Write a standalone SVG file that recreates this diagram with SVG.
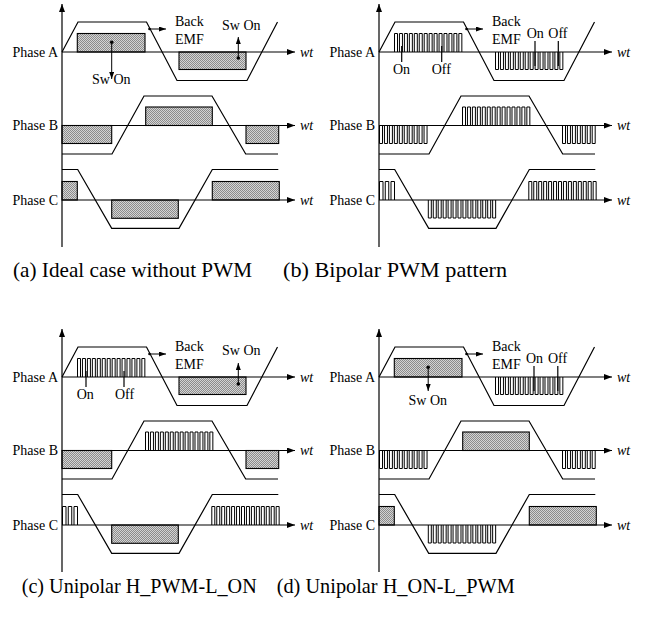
<svg xmlns="http://www.w3.org/2000/svg" xmlns:xlink="http://www.w3.org/1999/xlink" width="658" height="625" viewBox="0 0 658 625" font-family="'Liberation Serif', 'Times New Roman', serif">
<style>
.ln{stroke:#000;stroke-width:1.2;fill:none}
.ax{stroke:#000;stroke-width:1.2;fill:none;marker-end:url(#ah)}
.an{stroke:#000;stroke-width:1;fill:none;marker-end:url(#as)}
.box{fill:url(#hatch);stroke:#000;stroke-width:1.1}
.pw{fill:none;stroke:#000;stroke-width:1}
text{font-family:'Liberation Serif','Times New Roman',serif;fill:#000}
.t{font-size:14px}
.wt{font-style:italic}
.cap{font-size:21px}
</style>
<defs>
<marker id="ah" viewBox="0 0 8 6" refX="8" refY="3" markerWidth="8" markerHeight="6" markerUnits="userSpaceOnUse" orient="auto"><path d="M0,0L8,3L0,6z" fill="#000"/></marker>
<marker id="as" viewBox="0 0 7 5" refX="7" refY="2.5" markerWidth="7" markerHeight="5" markerUnits="userSpaceOnUse" orient="auto"><path d="M0,0L7,2.5L0,5z" fill="#000"/></marker>
<pattern id="hatch" width="2" height="2" patternUnits="userSpaceOnUse"><rect width="2" height="2" fill="#d4d4d4"/><rect width="1" height="1" fill="#8c8c8c"/><rect x="1" y="1" width="1" height="1" fill="#8c8c8c"/></pattern>
<g id="skel">
<line class="ax" x1="62" y1="247" x2="62" y2="4"/>
<line class="ax" x1="62" y1="52" x2="295" y2="52"/>
<line class="ax" x1="62" y1="125.5" x2="295" y2="125.5"/>
<line class="ax" x1="62" y1="200" x2="295" y2="200"/>
<polyline class="ln" points="62,52 78,22 146.5,22 177,80.5 247,80.5 277.5,22"/>
<polyline class="ln" points="62,154 112,154 144,96 212,96 245.7,154 278,154"/>
<polyline class="ln" points="62,169.5 77.7,169.5 111.7,228.3 179,228.3 212.3,169.5 278.3,169.5"/>
<text class="t" x="58" y="56.5" text-anchor="end">Phase A</text>
<text class="t" x="58" y="130" text-anchor="end">Phase B</text>
<text class="t" x="58" y="204.5" text-anchor="end">Phase C</text>
<text class="t wt" x="300" y="56.5">wt</text>
<text class="t wt" x="300" y="130">wt</text>
<text class="t wt" x="300" y="204.5">wt</text>
<circle cx="149.5" cy="29" r="1.3"/>
<line class="an" x1="149.5" y1="29" x2="166" y2="29"/>
<text class="t" x="175" y="25.5">Back</text>
<text class="t" x="175" y="43.5">EMF</text>
</g>
<rect id="sAp" class="box" x="77.3" y="33.5" width="67.7" height="18.5"/>
<rect id="sAn" class="box" x="179" y="52" width="67" height="17.5"/>
<rect id="sBp" class="box" x="145.7" y="107" width="66.6" height="18.5"/>
<rect id="sBl" class="box" x="62" y="125.5" width="49.7" height="18"/>
<rect id="sBr" class="box" x="246" y="125.5" width="32.7" height="18"/>
<rect id="sCl" class="box" x="62" y="181.5" width="15.3" height="18.5"/>
<rect id="sCn" class="box" x="111.7" y="200" width="66.6" height="18.3"/>
<rect id="sCr" class="box" x="212.3" y="181.5" width="67" height="18.5"/>
<path id="pAp" class="pw" d="M77.5,52
v-18.5h3v18.5m1.95,0v-18.5h3v18.5m1.95,0v-18.5h3v18.5m1.95,0v-18.5h3v18.5m1.95,0v-18.5h3v18.5m1.95,0v-18.5h3v18.5m1.95,0v-18.5h3v18.5m1.95,0
v-18.5h3v18.5m1.95,0v-18.5h3v18.5m1.95,0v-18.5h3v18.5m1.95,0v-18.5h3v18.5m1.95,0v-18.5h3v18.5m1.95,0v-18.5h3v18.5m1.95,0v-18.5h3v18.5"/>
<path id="pAn" class="pw" d="M178.5,52
v17.5h3v-17.5m1.95,0v17.5h3v-17.5m1.95,0v17.5h3v-17.5m1.95,0v17.5h3v-17.5m1.95,0v17.5h3v-17.5m1.95,0v17.5h3v-17.5m1.95,0v17.5h3v-17.5m1.95,0
v17.5h3v-17.5m1.95,0v17.5h3v-17.5m1.95,0v17.5h3v-17.5m1.95,0v17.5h3v-17.5m1.95,0v17.5h3v-17.5m1.95,0v17.5h3v-17.5m1.95,0v17.5h3v-17.5"/>
<path id="pBp" class="pw" d="M145.5,125.5
v-18.5h3v18.5m1.95,0v-18.5h3v18.5m1.95,0v-18.5h3v18.5m1.95,0v-18.5h3v18.5m1.95,0v-18.5h3v18.5m1.95,0v-18.5h3v18.5m1.95,0v-18.5h3v18.5m1.95,0
v-18.5h3v18.5m1.95,0v-18.5h3v18.5m1.95,0v-18.5h3v18.5m1.95,0v-18.5h3v18.5m1.95,0v-18.5h3v18.5m1.95,0v-18.5h3v18.5m1.95,0v-18.5h3v18.5"/>
<path id="pBl" class="pw" d="M62.5,125.5
v18h3v-18m1.95,0v18h3v-18m1.95,0v18h3v-18m1.95,0v18h3v-18m1.95,0v18h3v-18m1.95,0
v18h3v-18m1.95,0v18h3v-18m1.95,0v18h3v-18m1.95,0v18h3v-18m1.95,0v18h3v-18"/>
<path id="pBr" class="pw" d="M245.5,125.5
v18h3v-18m1.95,0v18h3v-18m1.95,0v18h3v-18m1.95,0v18h3v-18m1.95,0v18h3v-18m1.95,0v18h3v-18m1.95,0v18h3v-18"/>
<path id="pCl" class="pw" d="M62.5,200v-18.5h3.5v18.5m2.25,0v-18.5h3.5v18.5m2.25,0v-18.5h3.5v18.5"/>
<path id="pCn" class="pw" d="M111.3,200
v18h3v-18m1.95,0v18h3v-18m1.95,0v18h3v-18m1.95,0v18h3v-18m1.95,0v18h3v-18m1.95,0v18h3v-18m1.95,0v18h3v-18m1.95,0
v18h3v-18m1.95,0v18h3v-18m1.95,0v18h3v-18m1.95,0v18h3v-18m1.95,0v18h3v-18m1.95,0v18h3v-18m1.95,0v18h3v-18"/>
<path id="pCr" class="pw" d="M211.8,200
v-18.5h3v18.5m1.95,0v-18.5h3v18.5m1.95,0v-18.5h3v18.5m1.95,0v-18.5h3v18.5m1.95,0v-18.5h3v18.5m1.95,0v-18.5h3v18.5m1.95,0v-18.5h3v18.5m1.95,0
v-18.5h3v18.5m1.95,0v-18.5h3v18.5m1.95,0v-18.5h3v18.5m1.95,0v-18.5h3v18.5m1.95,0v-18.5h3v18.5m1.95,0v-18.5h3v18.5m1.95,0v-18.5h3v18.5"/>
</defs>

<g id="panel-a">
<use href="#sAp"/><use href="#sAn"/><use href="#sBp"/><use href="#sBl"/><use href="#sBr"/><use href="#sCl"/><use href="#sCn"/><use href="#sCr"/>
<use href="#skel"/>
<circle cx="111.7" cy="42.3" r="1.8"/>
<line class="an" x1="111.7" y1="42.3" x2="111.7" y2="79"/>
<text class="t" x="92" y="83.5">Sw On</text>
<text class="t" x="222" y="29.5">Sw On</text>
<circle cx="238.3" cy="58" r="1.8"/>
<line class="an" x1="238.3" y1="58" x2="238.3" y2="37"/>
</g>

<g id="panel-b" transform="translate(317,0)">
<use href="#pAp"/><use href="#pAn"/><use href="#pBp"/><use href="#pBl"/><use href="#pBr"/><use href="#pCl"/><use href="#pCn"/><use href="#pCr"/>
<use href="#skel"/>
<line class="ln" x1="84.7" y1="46" x2="84.7" y2="62"/>
<line class="ln" x1="124.7" y1="46" x2="124.7" y2="62"/>
<text class="t" x="76" y="73.5">On</text>
<text class="t" x="114.7" y="73.5">Off</text>
<line class="ln" x1="218" y1="41" x2="218" y2="66"/>
<line class="ln" x1="241.3" y1="41" x2="241.3" y2="66"/>
<text class="t" x="209.7" y="37.7">On</text>
<text class="t" x="231.3" y="37.7">Off</text>
</g>

<g id="panel-c" transform="translate(0,325)">
<use href="#pAp"/><use href="#sAn"/><use href="#pBp"/><use href="#sBl"/><use href="#sBr"/><use href="#pCl"/><use href="#sCn"/><use href="#pCr"/>
<use href="#skel"/>
<line class="ln" x1="86" y1="46" x2="86" y2="62"/>
<line class="ln" x1="124" y1="46" x2="124" y2="62"/>
<text class="t" x="76.7" y="73.5">On</text>
<text class="t" x="115" y="73.5">Off</text>
<text class="t" x="222" y="29.5">Sw On</text>
<circle cx="238.3" cy="59" r="1.8"/>
<line class="an" x1="238.3" y1="59" x2="238.3" y2="38"/>
</g>

<g id="panel-d" transform="translate(317,325)">
<use href="#sAp"/><use href="#pAn"/><use href="#sBp"/><use href="#pBl"/><use href="#pBr"/><use href="#sCl"/><use href="#pCn"/><use href="#sCr"/>
<use href="#skel"/>
<circle cx="111.2" cy="42.3" r="1.8"/>
<line class="an" x1="111.2" y1="42.3" x2="111.2" y2="66"/>
<text class="t" x="91.5" y="80">Sw On</text>
<line class="ln" x1="217" y1="41" x2="217" y2="66"/>
<line class="ln" x1="240.8" y1="41" x2="240.8" y2="66"/>
<text class="t" x="209" y="38">On</text>
<text class="t" x="231" y="38">Off</text>
</g>

<g id="captions">
<text class="cap" x="13" y="277" textLength="239" lengthAdjust="spacingAndGlyphs">(a) Ideal case without PWM</text>
<text class="cap" x="283" y="277" textLength="224" lengthAdjust="spacingAndGlyphs">(b) Bipolar PWM pattern</text>
<text class="cap" x="21.7" y="593" textLength="235" lengthAdjust="spacingAndGlyphs">(c) Unipolar H_PWM-L_ON</text>
<text class="cap" x="276.7" y="593" textLength="238" lengthAdjust="spacingAndGlyphs">(d) Unipolar H_ON-L_PWM</text>
</g>
</svg>
